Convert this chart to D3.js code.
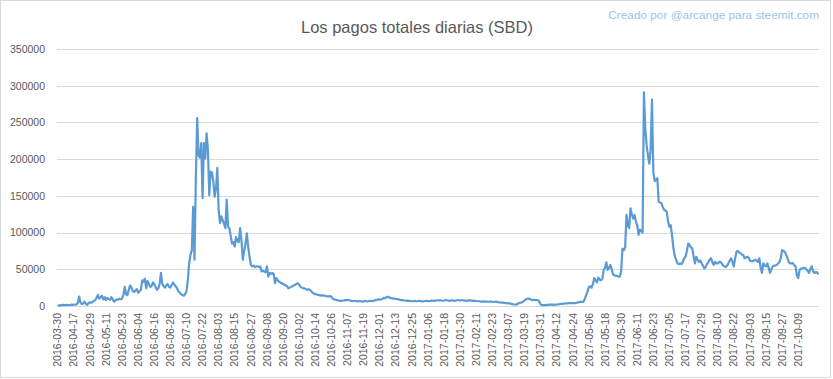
<!DOCTYPE html>
<html>
<head>
<meta charset="utf-8">
<script src="https://cdn.jsdelivr.net/npm/d3@7"></script>
<style>
  body { margin: 0; background: #fff; }
  svg { display: block; font-family: "Liberation Sans", Arial, sans-serif; }
</style>
</head>
<body>
<div id="chart"></div>
<script>
// Chart text
const title = "Los pagos totales diarias (SBD)";
const credit = "Creado por @arcange para steemit.com";

// Daily payouts (SBD), one value per day category
const payouts = [
  500, 800, 1200, 900, 1500, 1100, 1300, 1600, 1000, 1400,
  1800, 1500, 2000, 1700, 2200, 4000, 12700, 5000, 2500, 3500,
  6000, 3000, 1500, 4000, 5000, 4500, 5500, 7000, 8000, 11000,
  15000, 10000, 12000, 14000, 9000, 12000, 8000, 11000, 9500, 8500,
  12000, 9000, 6000, 7500, 9000, 8500, 10000, 9000, 10000, 15000,
  26000, 16000, 15000, 22000, 28000, 25000, 20000, 19000, 21000, 23000,
  18000, 20000, 22000, 35000, 33000, 37000, 24000, 34000, 30000, 26000,
  27000, 32000, 30000, 26000, 22000, 24000, 30000, 45000, 30000, 27000,
  25000, 28000, 30000, 26000, 25000, 29000, 32000, 29000, 27000, 24000,
  20000, 18000, 16000, 15000, 14000, 16000, 20000, 35000, 58000, 70000,
  76000, 135000, 63000, 175000, 256000, 205000, 202000, 222000, 147000, 222000,
  201000, 235000, 213000, 151000, 183000, 182000, 170000, 149000, 160000, 188000,
  131000, 113000, 122000, 117000, 112000, 106000, 145000, 108000, 106000, 95000,
  85000, 87000, 81000, 94000, 88000, 87000, 106000, 90000, 63000, 75000,
  85000, 99000, 81000, 67000, 56000, 54000, 55000, 53000, 54000, 54000,
  53000, 54000, 47000, 48000, 47000, 46000, 54000, 40000, 45000, 44000,
  45000, 44000, 31000, 38000, 35000, 33000, 32000, 31000, 30000, 29000,
  28000, 27000, 24000, 25000, 26000, 27000, 28000, 29000, 30000, 31000,
  29000, 26000, 25000, 24000, 24000, 23000, 22000, 23000, 22000, 20000,
  18000, 17000, 16000, 16000, 15000, 15000, 14000, 15000, 14000, 14000,
  13500, 13000, 13000, 13600, 12700, 10000, 9000, 8500, 8000, 7500,
  7500, 7000, 7200, 7500, 8000, 8000, 8200, 8000, 7500, 7000,
  6500, 6800, 7000, 6500, 6200, 6800, 6500, 6000, 6500, 7000,
  6500, 6200, 6800, 7000, 6500, 7000, 7500, 8000, 8500, 9000,
  8800, 9000, 9500, 11000, 10500, 12000, 12700, 12000, 11000, 10500,
  10000, 10000, 9500, 9500, 9000, 8500, 8000, 8000, 7500, 7500,
  7000, 7200, 7000, 6800, 6500, 6800, 7000, 6500, 6500, 6800,
  7000, 6500, 6200, 6500, 6800, 7000, 6500, 6800, 7000, 7500,
  7200, 7000, 7500, 7800, 7500, 8000, 7500, 7200, 7500, 8000,
  7800, 7500, 7000, 7500, 7800, 7500, 7000, 7500, 8000, 7800,
  7500, 8000, 7800, 7200, 7500, 7000, 7500, 8000, 7500, 7000,
  7200, 7000, 6800, 6500, 6500, 6200, 6000, 6000, 6200, 6000,
  6000, 5800, 6000, 6000, 5800, 5500, 5800, 6000, 5500, 5000,
  4800, 4500, 4500, 4200, 4000, 3800, 3500, 3500, 3000, 2500,
  2200, 2000, 2000, 3000, 4000, 4500, 5000, 6000, 7500, 9000,
  10000, 10000, 9500, 8500, 8000, 8500, 8000, 8000, 8000, 6000,
  2000, 1300, 1200, 1300, 1500, 1500, 1600, 1800, 2000, 1800,
  1500, 1800, 2000, 2200, 2500, 3000, 3000, 3200, 3500, 3500,
  3500, 3800, 4000, 3800, 4000, 4000, 4000, 4500, 5000, 5500,
  5500, 5500, 6000, 10000, 15000, 20000, 26000, 27000, 25000, 30000,
  38000, 35000, 32000, 38600, 36000, 35000, 37000, 49000, 52000, 59500,
  49000, 52000, 56000, 50000, 43000, 42000, 41000, 41000, 40000, 40000,
  47000, 78000, 76000, 80000, 124000, 110000, 106000, 133000, 125000, 119000,
  124000, 115000, 110000, 97000, 104000, 102000, 100000, 291000, 242000, 219000,
  205000, 194000, 213000, 281000, 183000, 170000, 172000, 174000, 142000, 141000,
  140000, 135000, 131000, 130000, 128500, 115000, 108000, 110000, 95000, 78600,
  68000, 63000, 58000, 57000, 58000, 57000, 60000, 65000, 67000, 75000,
  85000, 83000, 80000, 78600, 68000, 58000, 67000, 63000, 60000, 62000,
  58000, 55000, 51000, 53000, 57000, 60000, 63000, 65000, 60000, 56000,
  60000, 58000, 58000, 60000, 60000, 58000, 55000, 54000, 53000, 55000,
  58000, 62000, 65000, 60000, 54000, 65000, 74000, 75000, 73000, 72000,
  70000, 69500, 65000, 66000, 67000, 66000, 62000, 61000, 61000, 62000,
  63000, 62000, 60000, 65000, 52000, 45000, 58000, 55000, 54000, 58000,
  52000, 45000, 50000, 54000, 55000, 55000, 56000, 58000, 60000, 65000,
  76000, 75000, 74000, 70000, 65000, 60000, 58000, 58000, 58500, 56000,
  54000, 42000, 38000, 49000, 51000, 51000, 52000, 52000, 50000, 48000,
  45000, 50000, 54000, 48000, 45000, 46000, 46000, 43000
];

// Category labels shown on the x axis (every 12th day)
const dateLabels = [
  "2016-03-30", "2016-04-17", "2016-04-29", "2016-05-11", "2016-05-23", "2016-06-04",
  "2016-06-16", "2016-06-28", "2016-07-10", "2016-07-22", "2016-08-03", "2016-08-15",
  "2016-08-27", "2016-09-08", "2016-09-20", "2016-10-02", "2016-10-14", "2016-10-26",
  "2016-11-07", "2016-11-19", "2016-12-01", "2016-12-13", "2016-12-25", "2017-01-06",
  "2017-01-18", "2017-01-30", "2017-02-11", "2017-02-23", "2017-03-07", "2017-03-19",
  "2017-03-31", "2017-04-12", "2017-04-24", "2017-05-06", "2017-05-18", "2017-05-30",
  "2017-06-11", "2017-06-23", "2017-07-05", "2017-07-17", "2017-07-29", "2017-08-10",
  "2017-08-22", "2017-09-03", "2017-09-15", "2017-09-27", "2017-10-09"
];
const labelStep = 12;

// Y ticks
const yTicks = [0, 50000, 100000, 150000, 200000, 250000, 300000, 350000];

const W = 833, H = 379;
const margin = { top: 49, right: 14, bottom: 73, left: 57 };

const svg = d3.select("#chart")
    .append("svg")
    .attr("width", W)
    .attr("height", H);

// Outer chart border
svg.append("rect")
    .attr("x", 0.5).attr("y", 0.5)
    .attr("width", 830).attr("height", 377)
    .attr("fill", "#fff")
    .attr("stroke", "#d9d9d9");

// Scales
const x = d3.scaleBand()
    .domain(d3.range(payouts.length))
    .range([margin.left, W - margin.right]);

const y = d3.scaleLinear()
    .domain([0, 350000])
    .range([H - margin.bottom, margin.top]);

const cx = i => x(i) + x.bandwidth() / 2;

// Grid lines + y labels
svg.append("g")
    .attr("transform", `translate(${margin.left},0)`)
    .call(d3.axisLeft(y)
        .tickValues(yTicks)
        .tickSize(-(W - margin.left - margin.right))
        .tickPadding(12)
        .tickFormat(d3.format("d")))
    .call(g => g.select(".domain").remove())
    .call(g => g.selectAll(".tick line")
        .attr("stroke", "#d9d9d9")
        .attr("shape-rendering", "crispEdges"))
    .call(g => g.selectAll(".tick text")
        .attr("fill", "#595959")
        .style("font-size", "10.5px"));

// X labels (rotated)
svg.append("g")
    .selectAll("text")
    .data(dateLabels)
    .enter()
    .append("text")
    .attr("transform", (d, i) => `translate(${cx(i * labelStep)},${H - margin.bottom + 7}) rotate(-90)`)
    .attr("text-anchor", "end")
    .attr("dy", "0.35em")
    .attr("fill", "#595959")
    .style("font-size", "10.5px")
    .text(d => d);

// Line
svg.append("path")
    .datum(payouts)
    .attr("fill", "none")
    .attr("stroke", "#5b9bd5")
    .attr("stroke-width", 2.2)
    .attr("stroke-linejoin", "round")
    .attr("d", d3.line()
        .x((d, i) => cx(i))
        .y(d => y(d)));

// Title
svg.append("text")
    .attr("x", 417)
    .attr("y", 33)
    .attr("text-anchor", "middle")
    .attr("fill", "#595959")
    .style("font-size", "16.5px")
    .text(title);

// Credit
svg.append("text")
    .attr("x", 819)
    .attr("y", 19)
    .attr("text-anchor", "end")
    .attr("fill", "#9dc3e6")
    .style("font-size", "11.8px")
    .text(credit);
</script>
</body>
</html>
